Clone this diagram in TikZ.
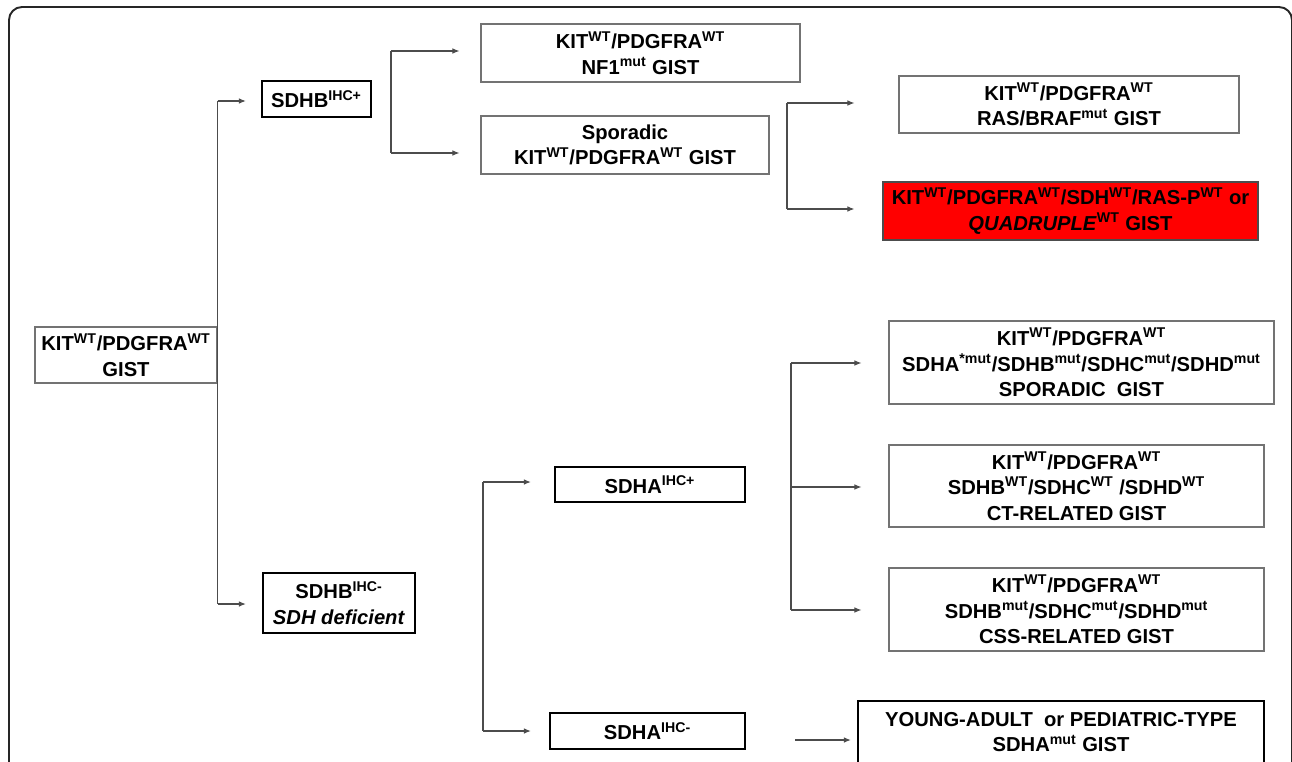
\documentclass[tikz,border=0pt]{standalone}
\usepackage{fontspec}
\setmainfont{Liberation Sans}
\usetikzlibrary{calc,arrows.meta}
\newcommand{\gsup}[1]{\textsuperscript{#1}}

\begin{document}
\begin{tikzpicture}[
        %We set the scale (one unit is one pixel, y goes down) and define some styles
        x=0.02cm, y=-0.02cm,
        every node/.style={font=\fontsize{11.5}{14.5}\selectfont\bfseries, align=center, inner sep=0pt},
        thin box/.style={draw=black!55, line width=0.6pt, fill=white},
        thick box/.style={draw=black, line width=1.3pt, fill=white},
        red box/.style={draw=black!70, line width=0.7pt, fill=red},
        link/.style={draw=black!70, line width=0.6pt},
        arr/.style={link, -{Latex[length=4pt,width=3.2pt]}},
        frame/.style={draw=black!85, line width=1.1pt, rounded corners=0.26cm}
     ]
    \useasboundingbox (0,0) rectangle (1292,761);
    % outer frame
    \draw[frame] (9,7) rectangle (1292,800);

    % boxes of the tree
    \node[thin box, minimum width=182*0.02cm, minimum height=56*0.02cm] (root) at (126,355)
        {KIT\gsup{WT}/PDGFRA\gsup{WT}\\GIST};
    \node[thick box, minimum width=109*0.02cm, minimum height=36*0.02cm] (sdhbp) at (316.5,99)
        {SDHB\gsup{IHC+}};
    \node[thick box, minimum width=152*0.02cm, minimum height=60*0.02cm] (sdhbm) at (339,603)
        {SDHB\gsup{IHC-}\\\textit{SDH deficient}};
    \node[thin box, minimum width=319*0.02cm, minimum height=58*0.02cm] (nf1) at (640.5,53)
        {KIT\gsup{WT}/PDGFRA\gsup{WT}\\NF1\gsup{mut} GIST};
    \node[thin box, minimum width=288*0.02cm, minimum height=58*0.02cm] (spor) at (625,145)
        {Sporadic\\KIT\gsup{WT}/PDGFRA\gsup{WT} GIST};
    \node[thin box, minimum width=340*0.02cm, minimum height=57*0.02cm] (ras) at (1069,104.5)
        {KIT\gsup{WT}/PDGFRA\gsup{WT}\\RAS/BRAF\gsup{mut} GIST};
    \node[red box, minimum width=375*0.02cm, minimum height=58*0.02cm] (quad) at (1070.5,211)
        {KIT\gsup{WT}/PDGFRA\gsup{WT}/SDH\gsup{WT}/RAS-P\gsup{WT} or\\\textit{QUADRUPLE}\gsup{WT} GIST};
    \node[thick box, minimum width=190*0.02cm, minimum height=35*0.02cm] (sdhap) at (650,484.5)
        {SDHA\gsup{IHC+}};
    \node[thick box, minimum width=195*0.02cm, minimum height=36*0.02cm] (sdham) at (647.5,731)
        {SDHA\gsup{IHC-}};
    \node[thin box, minimum width=385*0.02cm, minimum height=83*0.02cm] (sdhx) at (1081.5,362.5)
        {KIT\gsup{WT}/PDGFRA\gsup{WT}\\SDHA\gsup{*mut}/SDHB\gsup{mut}/SDHC\gsup{mut}/SDHD\gsup{mut}\\SPORADIC~ GIST};
    \node[thin box, minimum width=375*0.02cm, minimum height=82*0.02cm] (ct) at (1076.5,486)
        {KIT\gsup{WT}/PDGFRA\gsup{WT}\\SDHB\gsup{WT}/SDHC\gsup{WT} /SDHD\gsup{WT}\\CT-RELATED GIST};
    \node[thin box, minimum width=375*0.02cm, minimum height=83*0.02cm] (css) at (1076.5,609.5)
        {KIT\gsup{WT}/PDGFRA\gsup{WT}\\SDHB\gsup{mut}/SDHC\gsup{mut}/SDHD\gsup{mut}\\CSS-RELATED GIST};
    \node[thick box, minimum width=406*0.02cm, minimum height=62*0.02cm] (young) at (1061,732)
        {YOUNG-ADULT~ or PEDIATRIC-TYPE\\SDHA\gsup{mut} GIST};

    % Important coordinates are defined
    \coordinate (r1) at (root.east |- 0,101);
    \coordinate (r2) at (root.east |- 0,604);
    \coordinate (b1) at (391,51);
    \coordinate (b2) at (391,153);
    \coordinate (s1) at (787,103);
    \coordinate (s2) at (787,209);
    \coordinate (m1) at (483,482);
    \coordinate (m2) at (483,731);
    \coordinate (p1) at (791,363);
    \coordinate (p2) at (791,487);
    \coordinate (p3) at (791,610);
    \coordinate (q1) at (795,740);

    % connectors
    \draw[link] (r1) -- (r2);
    \draw[arr] (r1) -- ($(sdhbp.west |- r1)+(-15,0)$);
    \draw[arr] (r2) -- ($(sdhbm.west |- r2)+(-16,0)$);
    \draw[link] (b1) -- (b2);
    \draw[arr] (b1) -- ($(nf1.west |- b1)+(-21,0)$);
    \draw[arr] (b2) -- ($(spor.west |- b2)+(-21,0)$);
    \draw[link] (s1) -- (s2);
    \draw[arr] (s1) -- ($(ras.west |- s1)+(-44,0)$);
    \draw[arr] (s2) -- ($(quad.west |- s2)+(-28,0)$);
    \draw[link] (m1) -- (m2);
    \draw[arr] (m1) -- ($(sdhap.west |- m1)+(-23,0)$);
    \draw[arr] (m2) -- ($(sdham.west |- m2)+(-18,0)$);
    \draw[link] (p1) -- (p3);
    \draw[arr] (p1) -- ($(sdhx.west |- p1)+(-27,0)$);
    \draw[arr] (p2) -- ($(ct.west |- p2)+(-27,0)$);
    \draw[arr] (p3) -- ($(css.west |- p3)+(-27,0)$);
    \draw[arr] (q1) -- ($(young.west |- q1)+(-6,0)$);
\end{tikzpicture}
\end{document}
